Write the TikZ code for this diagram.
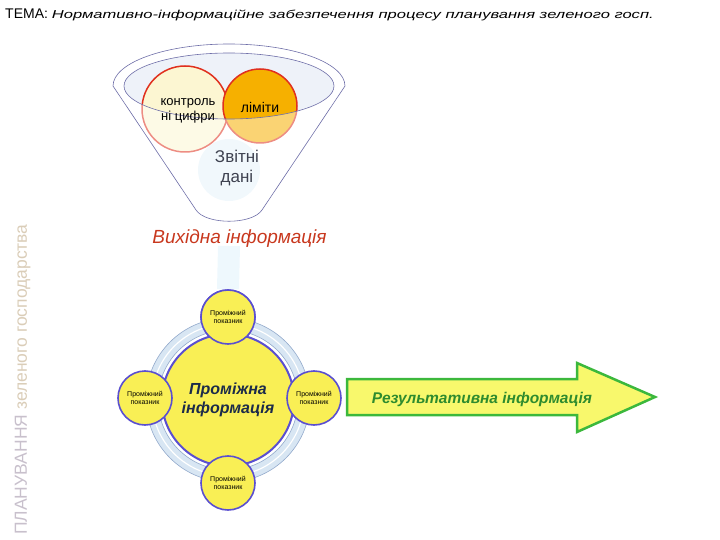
\documentclass[tikz,border=0pt]{standalone}
\usepackage{fontspec}
\setmainfont{Liberation Sans}
\definecolor{funnelline}{HTML}{6E6EA8}
\definecolor{ellfill}{HTML}{EEF2F9}
\definecolor{glow}{HTML}{E6F4FB}
\definecolor{circred}{HTML}{E0301E}
\definecolor{paleyel}{HTML}{FCF6D2}
\definecolor{orangef}{HTML}{F6B000}
\definecolor{redtext}{HTML}{C8381E}
\definecolor{ringfill}{HTML}{D8E6F3}
\definecolor{ringline}{HTML}{93AACC}
\definecolor{yel}{HTML}{F9EF55}
\definecolor{purp}{HTML}{5A4FD0}
\definecolor{navy}{HTML}{1C2B4A}
\definecolor{arrfill}{HTML}{F8F86C}
\definecolor{arrline}{HTML}{3CB83C}
\definecolor{arrtext}{HTML}{2E8B2E}
\definecolor{vtextA}{HTML}{C8C0CC}
\definecolor{vtextB}{HTML}{DACDB8}
\definecolor{grtext}{HTML}{3E4250}
\definecolor{band}{HTML}{EEF8FD}
\tikzset{
  smallc/.style={circle, minimum size=54pt, inner sep=0pt, fill=yel, draw=purp, line width=1.6pt, align=center, font=\fontsize{7}{7.5}\selectfont},
}
\begin{document}
\begin{tikzpicture}[x=1pt,y=-1pt]
\useasboundingbox (0,0) rectangle (720,540);
% title
\node[anchor=base west, inner sep=0pt] (title) at (5,19) {\fontsize{14}{16}\selectfont ТЕМА: \scalebox{1.44}[1]{\fontsize{11.5}{14}\selectfont\itshape Нормативно-інформаційне забезпечення процесу планування зеленого госп.}};
% vertical label
\node[rotate=90, anchor=base west, inner sep=0pt] (vlabel) at (27,535) {\fontsize{17.5}{19}\selectfont\color{vtextA}ПЛАНУВАННЯ \color{vtextB}зеленого господарства};
% funnel
\fill[ellfill] (229,86) ellipse [x radius=105, y radius=33];
\fill[glow] (229,170) circle (31);
\node[circle, minimum size=86pt, inner sep=0pt, fill=paleyel, draw=circred, line width=1.5pt] (kc) at (185,109) {};
\node[circle, minimum size=74pt, inner sep=0pt, fill=orangef, draw=circred, line width=1.5pt] (lim) at (260,106) {};
\fill[white, opacity=0.45, even odd rule]
  (113,86) arc[start angle=180, end angle=360, x radius=116, y radius=42]
  -- (262,210) .. controls (252,225) and (206,225) .. (196,210) -- cycle
  (229,86) ellipse [x radius=105, y radius=33];
\draw[funnelline, line width=0.6pt]
  (113,86) arc[start angle=180, end angle=360, x radius=116, y radius=42]
  -- (262,210) .. controls (252,225) and (206,225) .. (196,210) -- cycle;
\draw[funnelline, line width=0.6pt] (229,86) ellipse [x radius=105, y radius=33];
\node[align=center, inner sep=0pt, font=\fontsize{13}{14.5}\selectfont] at (188,111) {контроль\\ні цифри};
\node[inner sep=0pt, font=\fontsize{14}{16}\selectfont] at (260,107) {ліміти};
\node[align=center, inner sep=0pt, text=grtext, font=\fontsize{17}{20}\selectfont] (zvit) at (237,168) {Звітні\\дані};
\coordinate (fbot) at (229,226);
\node[inner sep=0pt, text=redtext, font=\fontsize{19}{21}\selectfont\itshape] (vyh) at (239.5,239) {Вихідна інформація};
% lower cycle
\node[smallc] (top) at (228,317) {Проміжний\\показник};
\draw[band, line width=22pt] (fbot) ++(0,20) -- (top.north);
\fill[ringfill, even odd rule] (228,400) circle (82) (228,400) circle (70);
\draw[white, line width=1.2pt] (228,400) circle (76);
\draw[ringline, line width=0.6pt] (228,400) circle (82);
\draw[ringline, line width=0.6pt] (228,400) circle (70);
\node[circle, minimum size=132pt, inner sep=0pt, fill=yel, draw=purp, line width=2pt, align=center, text=navy, font=\fontsize{16}{19}\selectfont\bfseries\itshape] (mid) at (228,400) {Проміжна\\інформація};
\node[smallc] (top2) at (228,317) {Проміжний\\показник};
\node[smallc] (left) at (145,398) {Проміжний\\показник};
\node[smallc] (right) at (314,398) {Проміжний\\показник};
\node[smallc] (bot) at (228,483) {Проміжний\\показник};
% result arrow
\draw[arrline, fill=arrfill, line width=2.5pt, line join=miter]
  (347,379) -- (577,379) -- (577,363) -- (655,397) -- (577,432) -- (577,415) -- (347,415) -- cycle;
\node[text=arrtext, inner sep=0pt, font=\fontsize{15.5}{17}\selectfont\bfseries\itshape] (res) at (482,399) {Результативна інформація};
\end{tikzpicture}
\end{document}
